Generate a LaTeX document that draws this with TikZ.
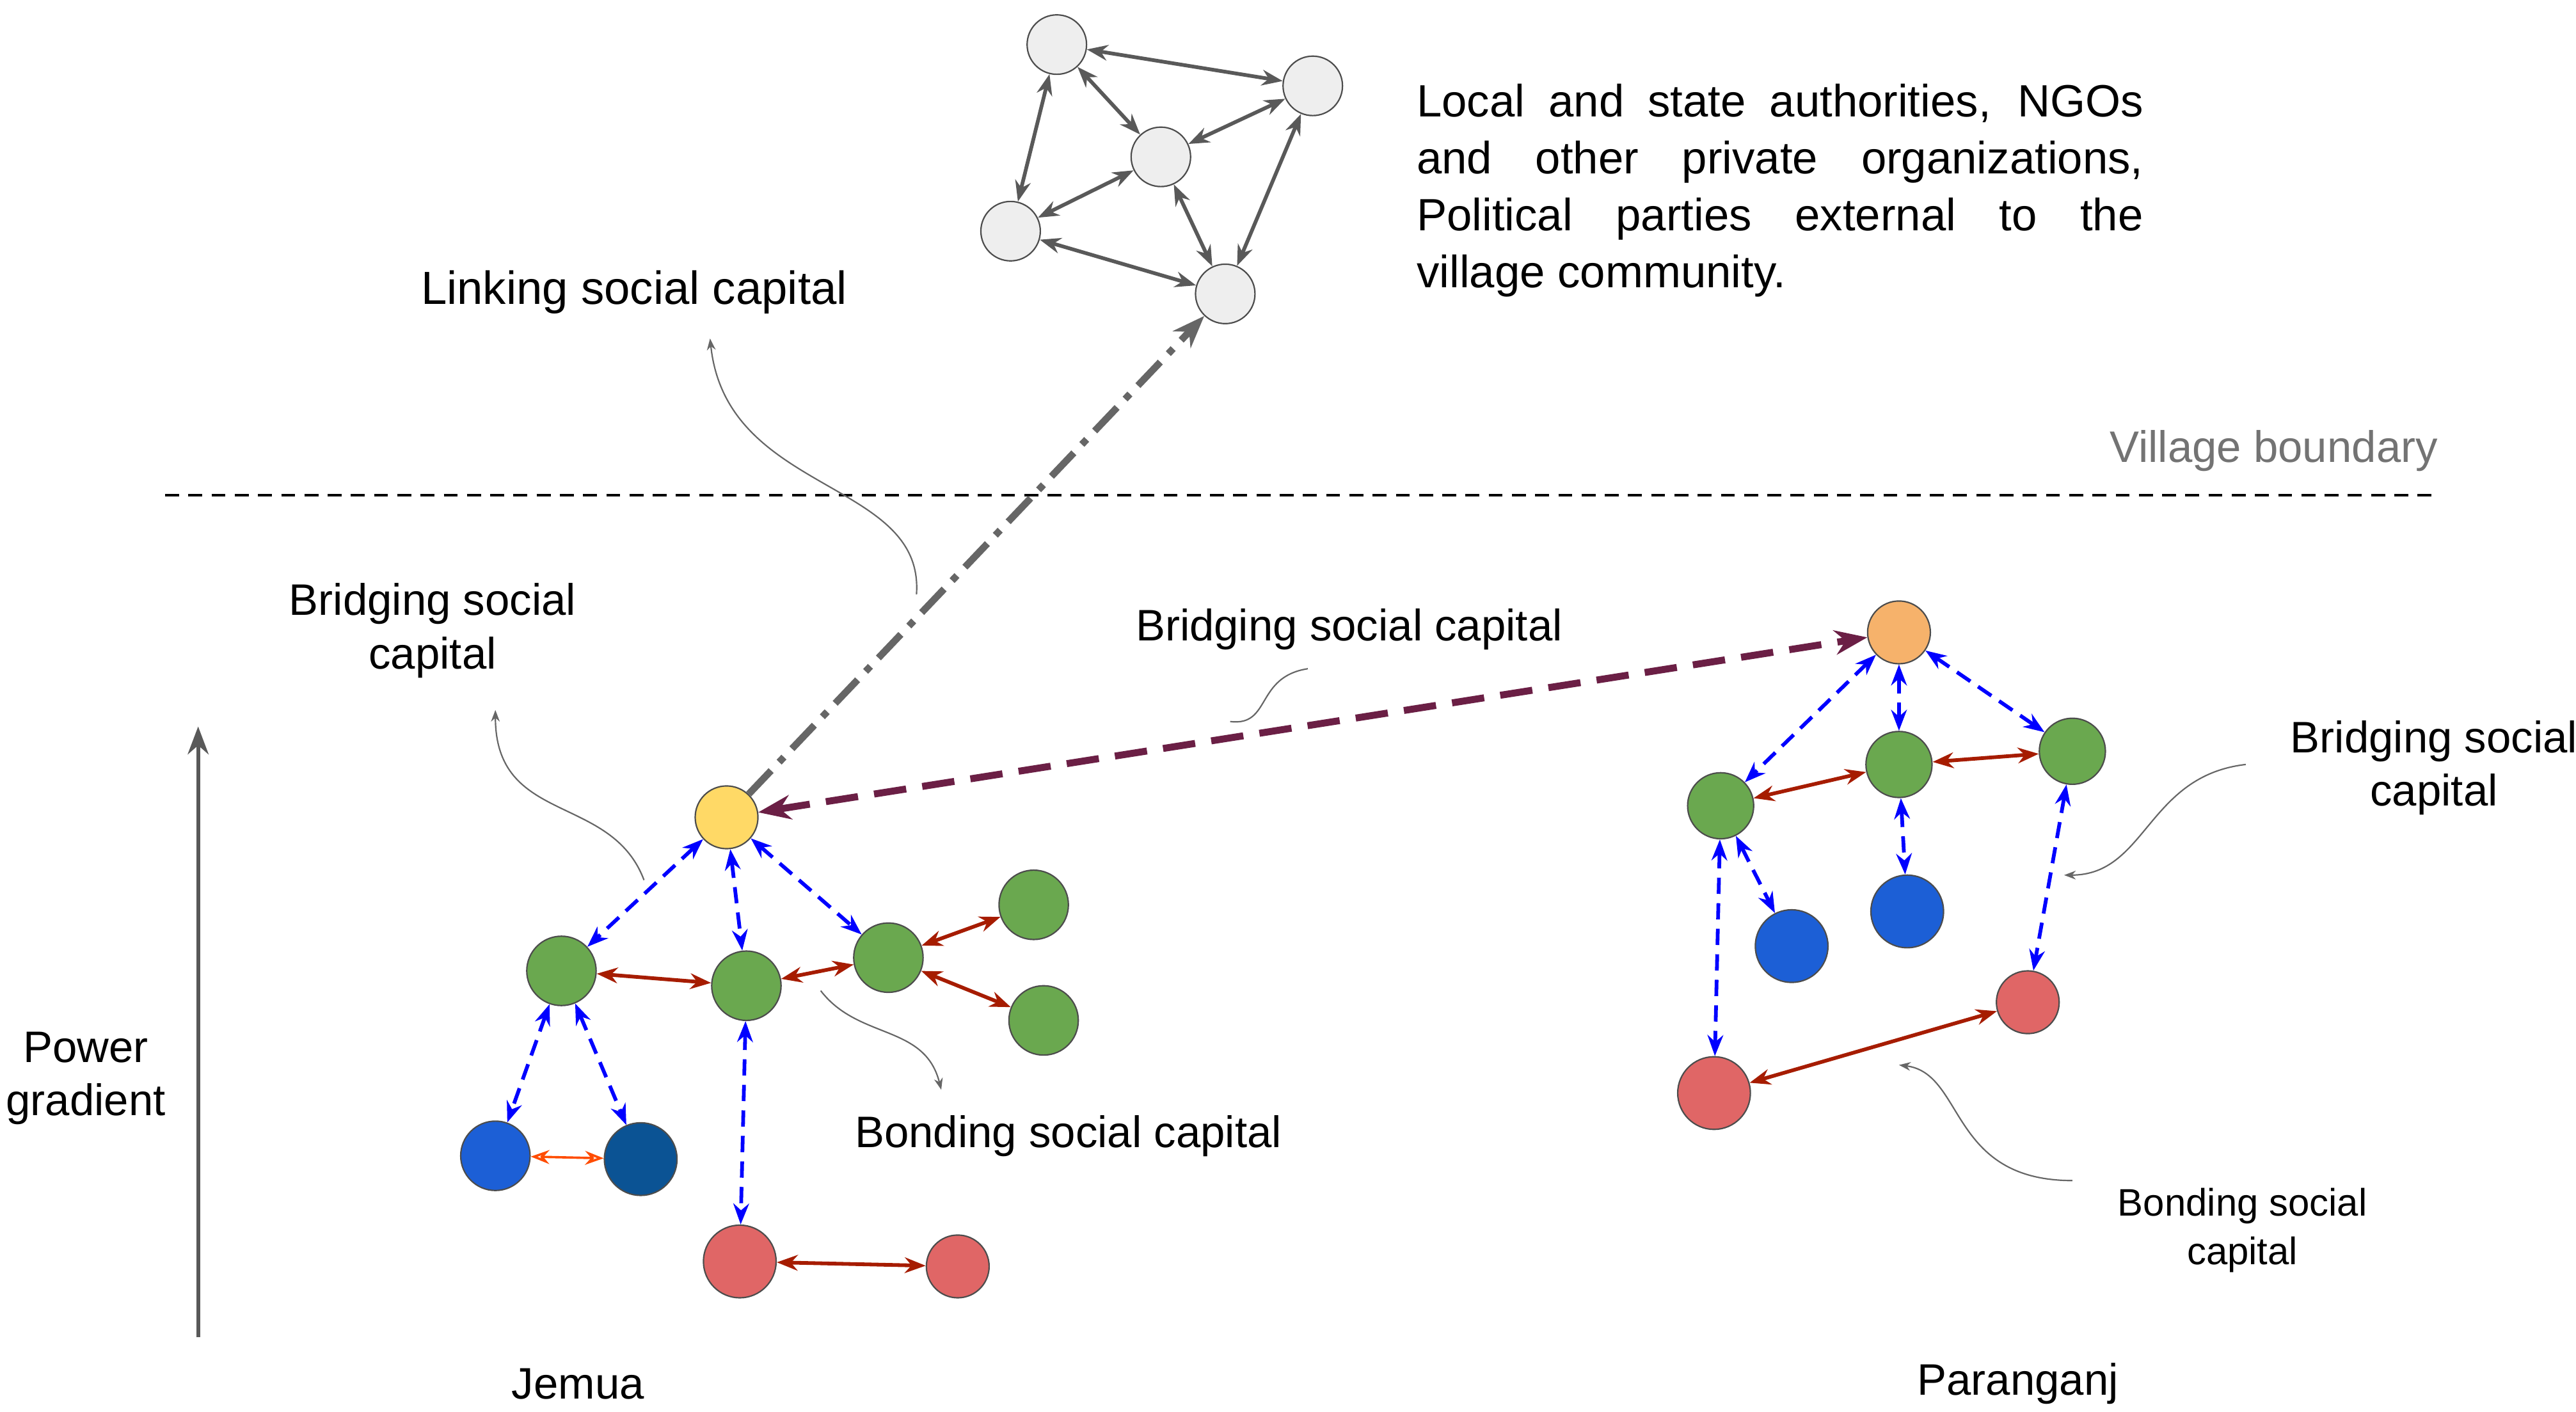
\documentclass[tikz,border=0pt]{standalone}
\usepackage{fontspec}
\setmainfont{Liberation Sans}
\usetikzlibrary{arrows.meta}
\definecolor{gn}{HTML}{6AA84F}\definecolor{yl}{HTML}{FFD966}\definecolor{org}{HTML}{F6B26B}
\definecolor{bl}{HTML}{1C5FD6}\definecolor{dbl}{HTML}{0B5394}\definecolor{rd}{HTML}{E06666}
\definecolor{mr}{HTML}{6B1F45}\definecolor{dred}{HTML}{A61C00}\definecolor{lg}{HTML}{EEEEEE}
\begin{document}
\begin{tikzpicture}[x=0.025cm,y=-0.025cm,
 nd/.style={circle,draw=black!70,line width=0.6pt,inner sep=0pt,minimum size=#1*0.05cm},
 top/.style={nd=18,fill=lg},
 bd/.style={blue,dashed,line width=1.6pt,{Stealth[length=9pt]}-{Stealth[length=9pt]},dash pattern=on 7pt off 4pt},
 rdl/.style={dred,line width=1.6pt,{Stealth[length=9pt]}-{Stealth[length=9pt]}},
 ga/.style={black!65,line width=1.6pt,{Stealth[length=9pt]}-{Stealth[length=9pt]}},
 lead/.style={black!60,line width=0.6pt,-{Stealth[length=5pt]}},
 lab/.style={font=\fontsize{19}{23}\selectfont,align=center},
 slab/.style={font=\fontsize{16.5}{21}\selectfont,align=center}]
\useasboundingbox (0,0) rectangle (1560,855);
% top network
\node[top] (A) at (640,27) {};
\node[top] (B) at (795,52) {};
\node[top] (C) at (703,95) {};
\node[top] (D) at (612,140) {};
\node[top] (E) at (742,178) {};
\draw[ga] (A)--(B); \draw[ga] (A)--(D); \draw[ga] (A)--(C); \draw[ga] (C)--(B);
\draw[ga] (C)--(E); \draw[ga] (D)--(C); \draw[ga] (D)--(E); \draw[ga] (E)--(B);
\node[font=\fontsize{19.5}{24.5}\selectfont,align=justify,text width=440*0.025cm,anchor=north west] (T) at (853,46) {Local and state authorities, NGOs\linebreak and other private organizations,\linebreak Political parties external to the\linebreak village community.};
\node[font=\fontsize{20}{24}\selectfont] (L) at (384,177) {Linking social capital};
% boundary
\coordinate (vb1) at (100,300); \coordinate (vb2) at (1478,300);
\draw[black,dashed,line width=1.2pt,dash pattern=on 6pt off 4pt] (vb1)--(vb2);
\node[lab,text=black!55] (VB) at (1377,273) {Village boundary};
% Jemua
\node[nd=19,fill=yl] (Y) at (440,495) {};
\node[nd=21,fill=gn] (G1) at (340,588) {};
\node[nd=21,fill=gn] (G2) at (452,597) {};
\node[nd=21,fill=gn] (G3) at (538,580) {};
\node[nd=21,fill=gn] (G4) at (626,548) {};
\node[nd=21,fill=gn] (G5) at (632,618) {};
\node[nd=21,fill=bl] (B1) at (300,700) {};
\node[nd=22,fill=dbl] (B2) at (388,702) {};
\node[nd=22,fill=rd] (R1) at (448,764) {};
\node[nd=19,fill=rd] (R2) at (580,767) {};
\draw[bd] (Y)--(G1); \draw[bd] (Y)--(G2); \draw[bd] (Y)--(G3);
\draw[bd] (G1)--(B1); \draw[bd] (G1)--(B2); \draw[bd] (G2)--(R1);
\draw[rdl] (G1)--(G2); \draw[rdl] (G2)--(G3); \draw[rdl] (G3)--(G4); \draw[rdl] (G3)--(G5); \draw[rdl] (R1)--(R2);
\draw[orange!60!red,line width=1pt,{Stealth[length=8pt,open]}-{Stealth[length=8pt,open]}] (B1)--(B2);
% Paranganj
\node[nd=19,fill=org] (O) at (1150,383) {};
\node[nd=20,fill=gn] (P1) at (1042,488) {};
\node[nd=20,fill=gn] (P2) at (1150,463) {};
\node[nd=20,fill=gn] (P3) at (1255,455) {};
\node[nd=22,fill=bl] (PB1) at (1085,573) {};
\node[nd=22,fill=bl] (PB2) at (1155,552) {};
\node[nd=19,fill=rd] (PR1) at (1228,607) {};
\node[nd=22,fill=rd] (PR2) at (1038,662) {};
\draw[bd] (O)--(P1); \draw[bd] (O)--(P2); \draw[bd] (O)--(P3);
\draw[bd] (P1)--(PB1); \draw[bd] (P2)--(PB2); \draw[bd] (P1)--(PR2); \draw[bd] (P3)--(PR1);
\draw[rdl] (P2)--(P1); \draw[rdl] (P3)--(P2); \draw[rdl] (PR2)--(PR1);
% long links
\draw[black!60,line width=3pt,dash pattern=on 14pt off 5pt on 3pt off 5pt,-{Stealth[length=14pt]}] (Y)--(E);
\draw[mr,line width=3pt,dash pattern=on 14pt off 7pt,{Stealth[length=14pt]}-{Stealth[length=14pt]}] (Y)--(O);
% labels
\node[lab] (BL1) at (262,382) {Bridging social\\capital};
\node[lab] (BL2) at (817,381) {Bridging social capital};
\node[lab] (BO1) at (647,688) {Bonding social capital};
\node[lab] (BL3) at (1474,465) {Bridging social\\capital};
\node[slab] (BO2) at (1358,745) {Bonding social\\capital};
\node[lab] (PG) at (52,653) {Power\\gradient};
\node[lab] (J) at (350,838) {Jemua};
\node[lab] (PJ) at (1222,838) {Paranganj};
\coordinate (pa) at (120,810); \coordinate (pb) at (120,440);
\draw[black!65,line width=1.6pt,-{Stealth[length=12pt]}] (pa)--(pb);
% leaders
\coordinate (l1) at (555,360); \coordinate (l1e) at (430,205);
\draw[lead] (l1) .. controls (560,290) and (440,300) .. (l1e);
\coordinate (l2) at (390,533); \coordinate (l2e) at (300,430);
\draw[lead] (l2) .. controls (370,480) and (300,500) .. (l2e);
\coordinate (l3) at (745,437); \coordinate (l3e) at (792,405);
\draw[black!60,line width=0.6pt] (l3) .. controls (770,440) and (760,410) .. (l3e);
\coordinate (l4) at (497,600); \coordinate (l4e) at (570,660);
\draw[lead] (l4) .. controls (520,630) and (560,620) .. (l4e);
\coordinate (l5) at (1360,463); \coordinate (l5e) at (1250,530);
\draw[lead] (l5) .. controls (1300,470) and (1300,530) .. (l5e);
\coordinate (l6) at (1255,715); \coordinate (l6e) at (1150,645);
\draw[lead] (l6) .. controls (1180,715) and (1190,650) .. (l6e);
\end{tikzpicture}
\end{document}
